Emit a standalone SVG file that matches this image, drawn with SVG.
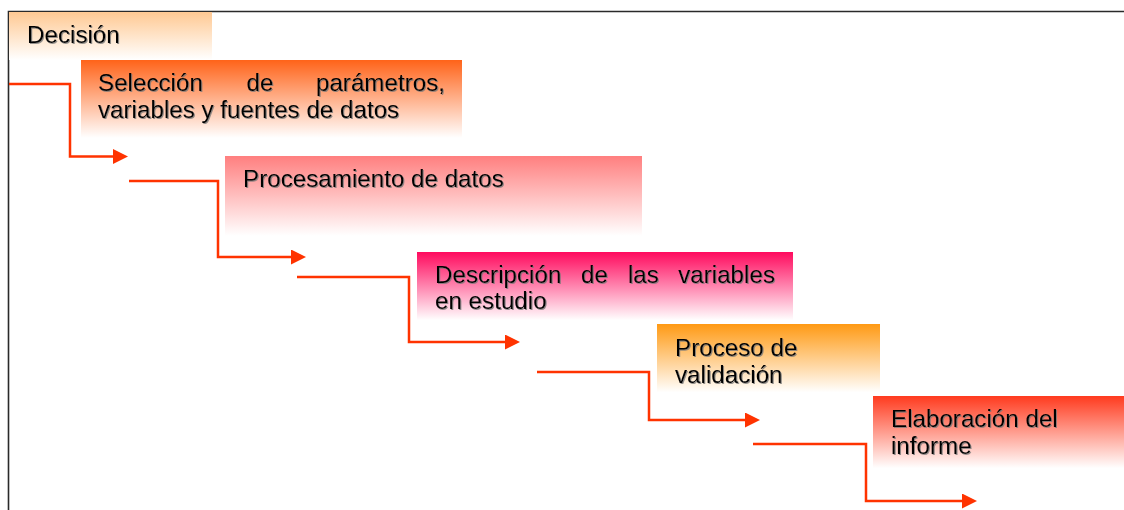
<svg xmlns="http://www.w3.org/2000/svg" width="1124" height="510" viewBox="0 0 1124 510">
<defs>
<linearGradient id="gDec" x1="0" y1="0" x2="0" y2="1"><stop offset="0" stop-color="#FFC993"/><stop offset="1" stop-color="#FFFFFF"/></linearGradient>
<linearGradient id="gSel" x1="0" y1="0" x2="0" y2="1"><stop offset="0" stop-color="#FF6319"/><stop offset="0.95" stop-color="#FFFFFF"/></linearGradient>
<linearGradient id="gPro" x1="0" y1="0" x2="0" y2="1"><stop offset="0" stop-color="#FF7F7F"/><stop offset="0.95" stop-color="#FFFFFF"/></linearGradient>
<linearGradient id="gDes" x1="0" y1="0" x2="0" y2="1"><stop offset="0" stop-color="#FF0A5E"/><stop offset="0.95" stop-color="#FFFFFF"/></linearGradient>
<linearGradient id="gVal" x1="0" y1="0" x2="0" y2="1"><stop offset="0" stop-color="#FF9A14"/><stop offset="0.95" stop-color="#FFFFFF"/></linearGradient>
<linearGradient id="gEla" x1="0" y1="0" x2="0" y2="1"><stop offset="0" stop-color="#FF3A1E"/><stop offset="0.95" stop-color="#FFFFFF"/></linearGradient>
<filter id="sh" x="-5%" y="-20%" width="110%" height="140%">
<feDropShadow dx="1" dy="1" stdDeviation="0.4" flood-color="#777777" flood-opacity="0.8"/>
</filter>
<marker id="arr" markerUnits="userSpaceOnUse" markerWidth="16" markerHeight="16" refX="5" refY="7.5" orient="auto">
<path d="M0,0 L15,7.5 L0,15 Z" fill="#FF3300"/>
</marker>
</defs>
<style>
.t{font-family:"Liberation Sans",Arial,sans-serif;font-size:24.2px;fill:#000;filter:url(#sh);}
.c{fill:none;stroke:#FF3300;stroke-width:2.5;marker-end:url(#arr);}
.f{stroke:#2a2a2a;stroke-width:1.6;fill:none;}
</style>
<rect x="0" y="0" width="1124" height="510" fill="#FFFFFF"/>
<g id="frame">
<path class="f" d="M8.5,510 V11.5 H1124"/>
</g>
<g id="decision">
<rect x="9" y="12" width="203" height="48" fill="url(#gDec)"/>
<text class="t" x="27" y="43">Decisión</text>
</g>
<g id="seleccion">
<rect x="81" y="60" width="381" height="82" fill="url(#gSel)"/>
<text class="t" y="91"><tspan x="98">Selección</tspan><tspan x="246.5">de</tspan><tspan x="445" text-anchor="end">parámetros,</tspan></text>
<text class="t" x="98" y="118">variables y fuentes de datos</text>
</g>
<g id="procesamiento">
<rect x="225" y="156" width="417" height="84" fill="url(#gPro)"/>
<text class="t" x="243" y="187">Procesamiento de datos</text>
</g>
<g id="descripcion">
<rect x="417" y="252" width="376" height="72" fill="url(#gDes)"/>
<text class="t" y="283"><tspan x="435">Descripción</tspan><tspan x="581">de</tspan><tspan x="628">las</tspan><tspan x="775" text-anchor="end">variables</tspan></text>
<text class="t" x="435" y="309">en estudio</text>
</g>
<g id="validacion">
<rect x="657" y="324" width="223" height="72" fill="url(#gVal)"/>
<text class="t" x="675" y="356">Proceso de</text>
<text class="t" x="675" y="383">validación</text>
</g>
<g id="informe">
<rect x="873" y="396" width="251" height="76" fill="url(#gEla)"/>
<text class="t" x="891" y="427">Elaboración del</text>
<text class="t" x="891" y="454">informe</text>
</g>
<g id="connectors">
<path class="c" d="M9,84 H70 V156.5 H118"/>
<path class="c" d="M129,181 H218 V257 H296"/>
<path class="c" d="M297,277 H409 V342 H510"/>
<path class="c" d="M537,372 H649 V420 H750"/>
<path class="c" d="M753,444 H866 V501 H967"/>
</g>
</svg>
